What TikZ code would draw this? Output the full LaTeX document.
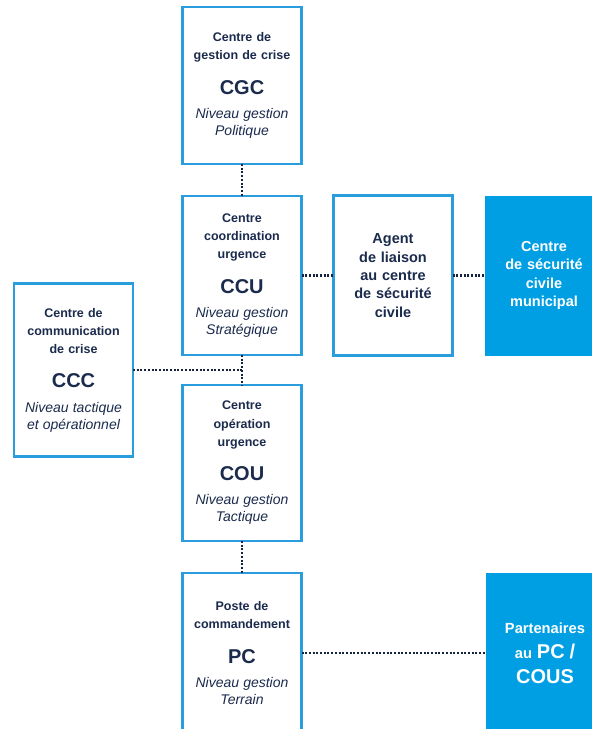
\documentclass[tikz,border=0pt]{standalone}
\usepackage{fontspec}
\setmainfont{Liberation Sans}
\usetikzlibrary{positioning}
\usetikzlibrary{calc}

\definecolor{navy}{HTML}{1B2B4D}
\definecolor{dotnavy}{HTML}{15233F}
\definecolor{rimblue}{HTML}{2A9DDE}
\definecolor{solidblue}{HTML}{009FE3}

\newcommand{\acro}[1]{{\fontsize{20}{24}\selectfont #1}}
\newcommand{\lvl}[2]{{\fontsize{14}{17}\selectfont\mdseries\itshape #1\\[-1.3pt]#2}}

\tikzset{
  orgbox/.style={draw=rimblue, line width=2.2pt, fill=white, text=navy,
    minimum width=119pt, text width=115pt, inner sep=0pt, outer sep=0pt,
    align=center, font=\fontsize{12.5}{18.3}\selectfont\bfseries},
  bluebox/.style={fill=solidblue, text=white, minimum width=119pt,
    text width=115pt, inner sep=0pt, outer sep=0pt, align=center,
    font=\fontsize{14.5}{18.3}\selectfont\bfseries},
  link/.style={draw=dotnavy, line width=2.6pt, dash pattern=on 2pt off 1.7pt}
}

\begin{document}
\begin{tikzpicture}[x=1pt, y=-1pt]
    \useasboundingbox (0,0) rectangle (592,729);

    \node[orgbox, minimum height=157pt] (cgc) at (242,85.5)
      {Centre de\\gestion de crise\\[16pt]\acro{CGC}\\[7.2pt]\lvl{Niveau gestion}{Politique}};
    \node[orgbox, minimum height=159pt, below=32pt of cgc] (ccu)
      {Centre\\coordination\\urgence\\[16pt]\acro{CCU}\\[7.2pt]\lvl{Niveau gestion}{Stratégique}};
    \node[orgbox, minimum height=156pt, below=30pt of ccu] (cou)
      {Centre\\opération\\urgence\\[16pt]\acro{COU}\\[7.2pt]\lvl{Niveau gestion}{Tactique}};
    \node[orgbox, minimum height=160pt, below=32pt of cou] (pc)
      {Poste de\\commandement\\[16pt]\acro{PC}\\[7.2pt]\lvl{Niveau gestion}{Terrain}};

    \coordinate (mid) at ($(ccu.south)!0.5!(cou.north)$);
    \node[orgbox, minimum height=173pt, left=109pt of mid] (ccc)
      {Centre de\\communication\\de crise\\[16pt]\acro{CCC}\\[7.2pt]\lvl{Niveau tactique}{et opérationnel}};

    \node[orgbox, minimum height=160pt, right=32pt of ccu,
      font=\fontsize{14.5}{18.3}\selectfont\bfseries] (agent)
      {Agent\\de liaison\\au centre\\de sécurité\\civile};
    \node[bluebox, minimum height=160pt, right=32pt of agent] (csc)
      {Centre\\de sécurité\\civile\\municipal};
    \node[bluebox, minimum height=160pt, right=184pt of pc,
      font=\fontsize{14.7}{25}\selectfont\bfseries] (partners)
      {Partenaires\\au \acro{PC /}\\\acro{COUS}};

    \draw[link] (cgc) -- (ccu);
    \draw[link] (ccu) -- (cou);
    \draw[link] (cou) -- (pc);
    \draw[link] (ccc) -- (mid);
    \draw[link] (ccu) -- (agent);
    \draw[link] (agent) -- (csc);
    \draw[link] (pc) -- (partners);
\end{tikzpicture}
\end{document}
